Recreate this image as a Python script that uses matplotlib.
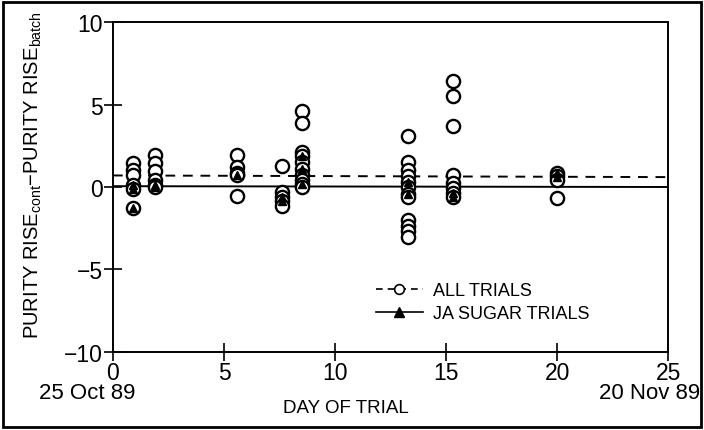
import matplotlib
matplotlib.use("Agg")
import matplotlib.pyplot as plt
from matplotlib.patches import Rectangle
from matplotlib.lines import Line2D

plt.rcParams['font.family'] = ['Liberation Sans', 'DejaVu Sans']
plt.rcParams['mathtext.default'] = 'regular'

# ---- data ----
all_days = [0.9, 0.9, 0.9, 0.9, 0.9, 0.9,
            1.9, 1.9, 1.9, 1.9, 1.9, 1.9,
            5.6, 5.6, 5.6, 5.6, 5.6,
            7.6, 7.6, 7.6, 7.6, 7.6,
            8.5, 8.5, 8.5, 8.5, 8.5, 8.5, 8.5, 8.5, 8.5, 8.5,
            13.3, 13.3, 13.3, 13.3, 13.3, 13.3, 13.3, 13.3, 13.3, 13.3, 13.3, 13.3,
            15.3, 15.3, 15.3, 15.3, 15.3, 15.3, 15.3, 15.3,
            20.0, 20.0, 20.0, 20.0]
all_vals = [1.45, 1.05, 0.7, 0.15, -0.15, -1.25,
            1.95, 1.45, 1.0, 0.4, 0.15, 0.0,
            1.95, 1.2, 0.85, 0.7, -0.55,
            1.25, -0.3, -0.6, -0.85, -1.15,
            4.6, 3.85, 2.15, 1.85, 1.5, 1.1, 0.75, 0.45, 0.2, 0.0,
            3.1, 1.5, 1.05, 0.65, 0.3, 0.0, -0.4, -0.6, -2.0, -2.35, -2.65, -3.05,
            6.45, 5.5, 3.7, 0.75, 0.25, -0.05, -0.35, -0.6,
            0.85, 0.65, 0.45, -0.65]

ja_days = [0.9, 0.9, 0.9, 1.9, 1.9, 5.6, 7.6, 7.6, 8.5, 8.5, 8.5,
           13.3, 13.3, 15.3, 15.3, 20.0, 20.0]
ja_vals = [0.15, -0.15, -1.25, 0.15, 0.0, 0.75, -0.6, -0.85, 1.85, 1.1, 0.2,
           0.3, -0.4, -0.35, -0.6, 0.85, 0.6]

# fitted lines (start/end)
fit_x = [0, 25]
fit_all = [0.7, 0.6]
fit_ja = [0.05, 0.0]

xticks = [0, 5, 10, 15, 20, 25]
yticks = [-10, -5, 0, 5, 10]

fig = plt.figure(figsize=(7.04, 4.31), dpi=100)
ax = fig.add_axes([0.1605, 0.181, 0.7885, 0.7656])

ax.plot(fit_x, fit_all, color='black', lw=1.4, ls=(0, (5, 4)), zorder=2)
ax.plot(fit_x, fit_ja, color='black', lw=1.4, ls='-', zorder=2)
ax.plot(all_days, all_vals, ls='none', marker='o', ms=9.5, mfc='white',
        mec='black', mew=1.7, zorder=3)
ax.plot(ja_days, ja_vals, ls='none', marker='^', ms=6, mfc='black',
        mec='black', zorder=4)

ax.set_xlim(0, 25)
ax.set_ylim(-10, 10)
ax.set_xticks(xticks)
ax.set_yticks(yticks)
ax.set_yticklabels(['\u221210', '\u22125', '0', '5', '10'])
ax.tick_params(direction='inout', length=13, width=1.2, labelsize=16.5,
               top=False, right=False)
ax.tick_params(axis='x', pad=0)
ax.tick_params(axis='y', pad=1)
for s in ax.spines.values():
    s.set_linewidth(1.4)

ax.set_ylabel('PURITY RISE$_{cont}$\u2212PURITY RISE$_{batch}$', fontsize=14.5)
ax.yaxis.set_label_coords(-0.125, 0.54)

fig.text(0.056, 0.086, '25 Oct 89', fontsize=16, ha='left', va='center')
fig.text(0.995, 0.086, '20 Nov 89', fontsize=16, ha='right', va='center')
fig.text(0.492, 0.052, 'DAY OF TRIAL', fontsize=13.5, ha='center', va='center')

h1 = Line2D([], [], color='black', lw=1.2, ls=(0, (4, 3)), marker='o', ms=7,
            mfc='white', mec='black', mew=1.2)
h2 = Line2D([], [], color='black', lw=1.2, ls='-', marker='^', ms=7,
            mfc='black', mec='black')
ax.legend([h1, h2], ['ALL TRIALS', 'JA SUGAR TRIALS'], loc='upper left',
          bbox_to_anchor=(0.444, 0.26), frameon=False, fontsize=13,
          handlelength=2.6, handletextpad=0.6, labelspacing=0.3)

fig.add_artist(Rectangle((0.004, 0.006), 0.992, 0.988, transform=fig.transFigure,
                         fill=False, lw=2, ec='black'))

fig.savefig('out.png', dpi=100)
